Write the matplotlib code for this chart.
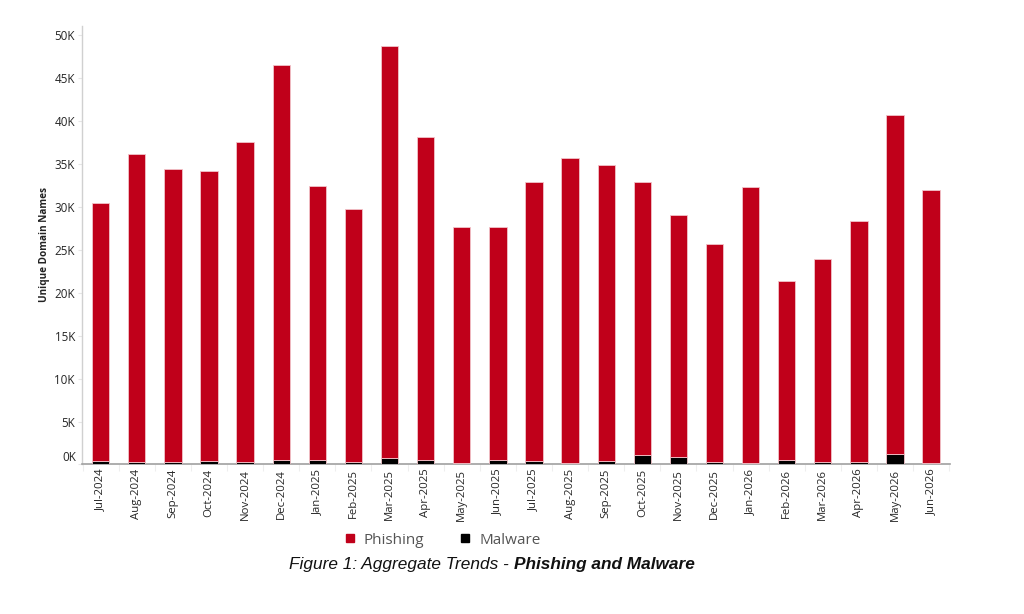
import matplotlib
matplotlib.use("Agg")
import matplotlib.pyplot as plt
import numpy as np
from matplotlib.ticker import FuncFormatter, MultipleLocator
from matplotlib.lines import Line2D

months = ["Jul-2024", "Aug-2024", "Sep-2024", "Oct-2024", "Nov-2024", "Dec-2024",
          "Jan-2025", "Feb-2025", "Mar-2025", "Apr-2025", "May-2025", "Jun-2025",
          "Jul-2025", "Aug-2025", "Sep-2025", "Oct-2025", "Nov-2025", "Dec-2025",
          "Jan-2026", "Feb-2026", "Mar-2026", "Apr-2026", "May-2026", "Jun-2026"]

# totals (phishing + malware), thousands
totals = [30.4, 36.2, 34.4, 34.2, 37.5, 46.5,
          32.4, 29.7, 48.7, 38.1, 27.6, 27.6,
          32.9, 35.7, 34.9, 32.9, 29.1, 25.7,
          32.3, 21.4, 23.9, 28.4, 40.7, 31.9]
malware = [0.42, 0.31, 0.31, 0.42, 0.31, 0.54,
           0.54, 0.31, 0.78, 0.54, 0.20, 0.54,
           0.42, 0.20, 0.42, 1.05, 0.85, 0.31,
           0.20, 0.54, 0.31, 0.31, 1.17, 0.20]
phishing = [round((t - m) * 1000) for t, m in zip(totals, malware)]
malware = [round(m * 1000) for m in malware]

RED = "#c0001a"
BLACK = "#000000"
TXT = "#262626"

fig = plt.figure(figsize=(10.24, 6.14), dpi=100)
ax = fig.add_axes([0.080, 0.2435, 0.848, 0.7142])

x = np.arange(len(months))
w = 0.48
ax.bar(x, malware, width=w, color=BLACK, edgecolor="#f2c4ca", linewidth=0.6, zorder=3)
ax.bar(x, phishing, width=w, bottom=malware, color=RED, edgecolor="#f2c4ca",
       linewidth=0.6, zorder=3)

ax.set_xlim(-0.52, len(months) - 0.47)
ax.set_ylim(0, 51050)
ax.yaxis.set_major_locator(MultipleLocator(5000))
ax.yaxis.set_major_formatter(
    FuncFormatter(lambda v, p: "" if v == 0 else f"{int(round(v / 1000))}K"))

ax.set_xticks(x)
ax.set_xticklabels(months, rotation=90, fontsize=8.2, color=TXT, family="Open Sans")
ax.set_xticks(np.arange(len(months) + 1) - 0.5, minor=True)
ax.tick_params(axis="x", which="major", length=0, pad=3)
ax.tick_params(axis="x", which="minor", length=5, color="#eeeeee", width=0.8)
ax.tick_params(axis="y", which="major", length=3, color="#e6e6e6", labelsize=8.4,
               labelcolor=TXT, pad=2)
for lbl in ax.get_yticklabels():
    lbl.set_family("Open Sans")
# 0K label sits slightly above the baseline, as in the original
ax.annotate("0K", xy=(0, 0), xycoords=("axes fraction", "data"),
            xytext=(-4, 5), textcoords="offset points", ha="right", va="center",
            fontsize=8.4, color=TXT, family="Open Sans")

for s in ["top", "right"]:
    ax.spines[s].set_visible(False)
ax.spines["left"].set_color("#d0d0d0")
ax.spines["left"].set_linewidth(1.0)
ax.spines["bottom"].set_color("#a0a0a0")
ax.spines["bottom"].set_linewidth(1.2)

fig.text(45 / 1024, 1 - 245 / 614, "Unique Domain Names", rotation=90, ha="center",
         va="center", fontsize=7.2, fontweight="bold", color="#222222", family="Open Sans")

handles = [Line2D([], [], marker="s", linestyle="none", color=RED, markersize=6),
           Line2D([], [], marker="s", linestyle="none", color=BLACK, markersize=6)]
leg = fig.legend(handles, ["Phishing", "Malware"], loc="center", ncol=2,
                 bbox_to_anchor=(442 / 1024, 1 - 540 / 614), frameon=False,
                 prop={"family": "Open Sans", "size": 11}, columnspacing=2.3,
                 handletextpad=0.5, handlelength=0.8)
for t in leg.get_texts():
    t.set_color("#555555")

fig.text(509 / 1024, 1 - 565 / 614, "Figure 1: Aggregate Trends -", ha="right",
         va="center", fontsize=12.4, style="italic", family="Liberation Sans", color="#111111")
fig.text(514 / 1024, 1 - 565 / 614, "Phishing and Malware", ha="left", va="center",
         fontsize=12.4, style="italic", fontweight="bold", family="Liberation Sans",
         color="#111111")

fig.savefig("out.png", dpi=100, facecolor="white")
